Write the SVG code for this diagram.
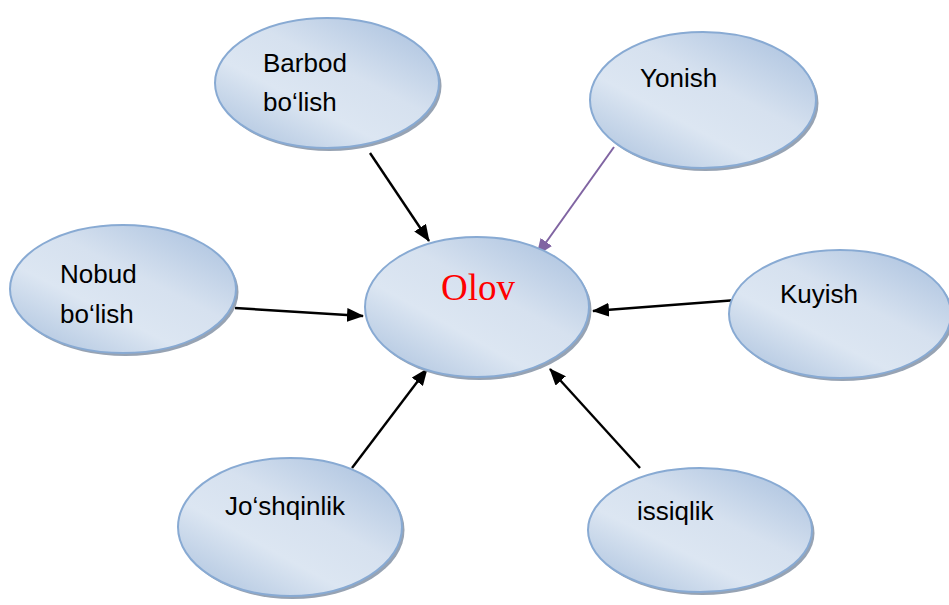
<svg xmlns="http://www.w3.org/2000/svg" width="949" height="605" viewBox="0 0 949 605">
<defs>
<linearGradient id="g" x1="0.1" y1="0.95" x2="0.9" y2="0.05">
<stop offset="0" stop-color="#b1c6e0"/>
<stop offset="0.35" stop-color="#dce6f2"/>
<stop offset="0.6" stop-color="#d6e1ef"/>
<stop offset="1" stop-color="#aec4e0"/>
</linearGradient>
<marker id="ah" markerUnits="userSpaceOnUse" markerWidth="17" markerHeight="14" refX="16" refY="7" orient="auto">
<path d="M0,0 L17,7 L0,14 Z" fill="#000"/>
</marker>
<marker id="ahp" markerUnits="userSpaceOnUse" markerWidth="17" markerHeight="14" refX="16" refY="7" orient="auto">
<path d="M0,0 L17,7 L0,14 Z" fill="#8064a2"/>
</marker>
</defs>
<style>
.sh{fill:#97a3b3}
.el{fill:url(#g);stroke:#88aad3;stroke-width:2}
.t{font-family:"Liberation Sans",Arial,sans-serif;font-size:26px;fill:#000}
.c{stroke:#000;stroke-width:2.4;fill:none;marker-end:url(#ah)}
.cp{stroke:#8064a2;stroke-width:2;fill:none;marker-end:url(#ahp)}
</style>
<rect width="949" height="605" fill="#fff"/>
<g id="connectors">
<line class="c" x1="370" y1="153" x2="429" y2="241"/>
<line class="cp" x1="614" y1="147" x2="537" y2="255"/>
<line class="c" x1="235" y1="308" x2="363" y2="316"/>
<line class="c" x1="737" y1="300" x2="593" y2="311"/>
<line class="c" x1="352" y1="468" x2="427" y2="369"/>
<line class="c" x1="640" y1="468" x2="550" y2="369"/>
</g>
<g id="olov">
<ellipse class="sh" cx="479.5" cy="310" rx="112" ry="70"/>
<ellipse class="el" cx="477" cy="307" rx="112" ry="70"/>
<text x="441" y="300" font-family="'Liberation Serif','Times New Roman',serif" font-size="37" fill="#ff0000">Olov</text>
</g>
<g id="barbod">
<ellipse class="sh" cx="329.5" cy="86" rx="112" ry="65"/>
<ellipse class="el" cx="327" cy="83" rx="112" ry="65"/>
<text class="t" x="263" y="72">Barbod</text>
<text class="t" x="263" y="111">bo‘lish</text>
</g>
<g id="yonish">
<ellipse class="sh" cx="705.5" cy="103" rx="113" ry="68"/>
<ellipse class="el" cx="703" cy="100" rx="113" ry="68"/>
<text class="t" x="640" y="87">Yonish</text>
</g>
<g id="nobud">
<ellipse class="sh" cx="125.5" cy="292" rx="113" ry="64"/>
<ellipse class="el" cx="123" cy="289" rx="113" ry="64"/>
<text class="t" x="60" y="283">Nobud</text>
<text class="t" x="60" y="323">bo‘lish</text>
</g>
<g id="kuyish">
<ellipse class="sh" cx="842.5" cy="317" rx="111" ry="64"/>
<ellipse class="el" cx="840" cy="314" rx="111" ry="64"/>
<text class="t" x="780" y="303">Kuyish</text>
</g>
<g id="joshqinlik">
<ellipse class="sh" cx="292.5" cy="530" rx="112" ry="69"/>
<ellipse class="el" cx="290" cy="527" rx="112" ry="69"/>
<text class="t" x="225" y="515">Jo‘shqinlik</text>
</g>
<g id="issiqlik">
<ellipse class="sh" cx="702.5" cy="533" rx="112" ry="62"/>
<ellipse class="el" cx="700" cy="530" rx="112" ry="62"/>
<text class="t" x="637" y="520">issiqlik</text>
</g>
</svg>
